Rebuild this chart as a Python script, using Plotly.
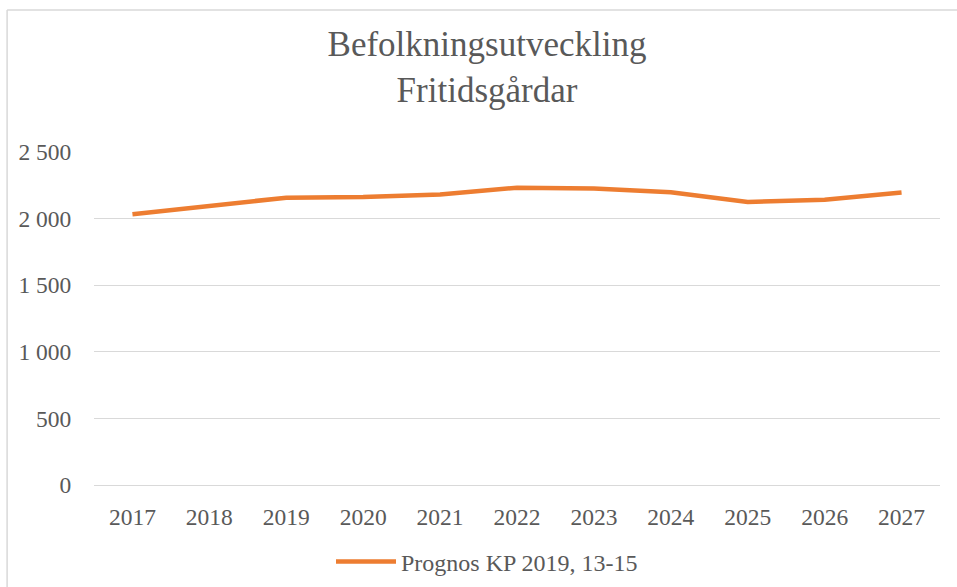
import plotly.graph_objects as go

years = ["2017", "2018", "2019", "2020", "2021", "2022", "2023", "2024", "2025", "2026", "2027"]
prognos = [2032, 2095, 2157, 2162, 2180, 2232, 2225, 2197, 2125, 2142, 2195]
series_name = "Prognos KP 2019, 13-15"
title_lines = ["Befolkningsutveckling", "Fritidsgårdar"]
y_ticks = [0, 500, 1000, 1500, 2000, 2500]

FONT = "Liberation Serif, Times New Roman, serif"
GRAY = "#595959"
GRID = "#D9D9D9"

W, H = 957, 587
L, R, T, B = 93.5, 16.5, 150.6, 101

fig = go.Figure()
fig.add_trace(go.Scatter(
    x=years, y=prognos, mode="lines", name=series_name,
    line=dict(color="#ED7D31", width=4.5, shape="linear"),
))

fig.update_layout(
    width=W, height=H,
    margin=dict(l=L, r=R, t=T, b=B, pad=0),
    paper_bgcolor="white", plot_bgcolor="white",
    separators=", ",
    font=dict(family=FONT, size=23.5, color=GRAY),
    title=dict(
        text="<br>".join(title_lines),
        font=dict(family=FONT, size=35, color=GRAY),
        x=487 / W, xanchor="center", xref="container",
        y=1 - 56 / H, yanchor="top", yref="container",
    ),
    xaxis=dict(
        type="category", range=[-0.5, len(years) - 0.5], automargin=False,
        showgrid=False, zeroline=False, showline=False,
        ticks="outside", ticklen=10, tickcolor="rgba(0,0,0,0)",
        tickfont=dict(family=FONT, size=23.5, color=GRAY),
    ),
    yaxis=dict(
        range=[-7, 2507], tickvals=y_ticks, tickformat=",d", automargin=False,
        showgrid=True, gridcolor=GRID, gridwidth=1.3,
        zeroline=True, zerolinecolor=GRID, zerolinewidth=1.3, showline=False,
        ticks="outside", ticklen=17, tickcolor="rgba(0,0,0,0)",
        tickfont=dict(family=FONT, size=23.5, color=GRAY),
    ),
    showlegend=True,
    legend=dict(
        orientation="h", xref="container", x=487 / W, xanchor="center",
        yref="container", y=(H - 562) / H, yanchor="middle",
        font=dict(family=FONT, size=24, color=GRAY),
        itemwidth=60, bgcolor="rgba(0,0,0,0)",
    ),
    shapes=[
        dict(type="line", xref="paper", yref="paper",
             x0=(6.5 - L) / (W - L - R), x1=(6.5 - L) / (W - L - R),
             y0=(H - B - 9.5) / (H - T - B), y1=(H - B - (H + 5)) / (H - T - B),
             line=dict(color=GRID, width=1.5), layer="below"),
        dict(type="line", xref="paper", yref="paper",
             x0=(6.5 - L) / (W - L - R), x1=(W + 5 - L) / (W - L - R),
             y0=(H - B - 9.5) / (H - T - B), y1=(H - B - 9.5) / (H - T - B),
             line=dict(color=GRID, width=1.5), layer="below"),
    ],
)

fig.write_html("out.html", config={"displayModeBar": False},
               post_script="document.body.style.margin='0';")
